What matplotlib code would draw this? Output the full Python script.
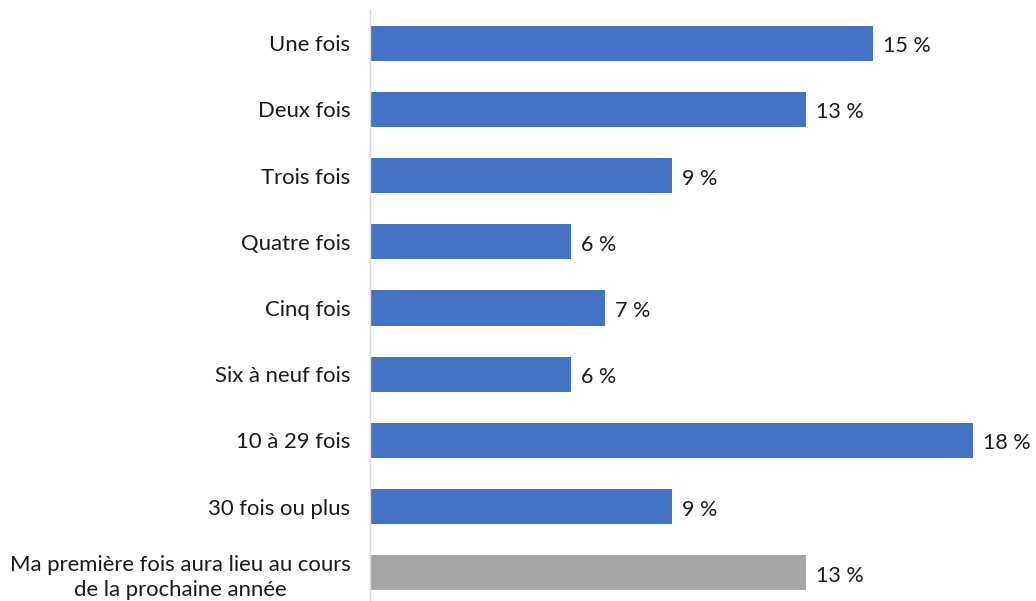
import matplotlib
matplotlib.use("Agg")
import matplotlib.pyplot as plt
from matplotlib.transforms import ScaledTranslation

categories = ["Une fois", "Deux fois", "Trois fois", "Quatre fois", "Cinq fois",
              "Six à neuf fois", "10 à 29 fois", "30 fois ou plus",
              "Ma première fois aura lieu au cours\nde la prochaine année"]
values = [15, 13, 9, 6, 7, 6, 18, 9, 13]
value_labels = ["15 %", "13 %", "9 %", "6 %", "7 %", "6 %", "18 %", "9 %", "13 %"]
colors = ["#4472C4"] * 8 + ["#A5A5A5"]

plt.rcParams['font.family'] = ['Lato', 'DejaVu Sans']

fig = plt.figure(figsize=(10.36, 6.01), dpi=100)
ax = fig.add_axes([370/1036, -5/601, (1036-370)/1036, 596/601])

ypos = list(range(len(categories)))
ax.barh(ypos, values, height=0.53, color=colors)
ax.set_ylim(len(categories) - 0.5, -0.5)
ax.set_xlim(0, (1036 - 370) / 33.5)

down = ScaledTranslation(0, -3/100, fig.dpi_scale_trans)
for y, v, lab in zip(ypos, values, value_labels):
    ax.text(v + 0.3, y, lab, va='center', ha='left', fontsize=15.5, color='#1a1a1a',
            transform=ax.transData + down)

ax.set_yticks(ypos)
ax.set_yticklabels(categories, fontsize=15.9, color='#1a1a1a', multialignment='center',
                   linespacing=1.3)
for t in ax.get_yticklabels():
    t.set_transform(t.get_transform() + ScaledTranslation(0, -1/100, fig.dpi_scale_trans))
ax.tick_params(axis='y', length=0, pad=14)
ax.set_xticks([])
for s in ['top', 'right', 'bottom']:
    ax.spines[s].set_visible(False)
ax.spines['left'].set_color('#D9D9D9')
ax.spines['left'].set_linewidth(1)

fig.savefig("out.png", dpi=100)
